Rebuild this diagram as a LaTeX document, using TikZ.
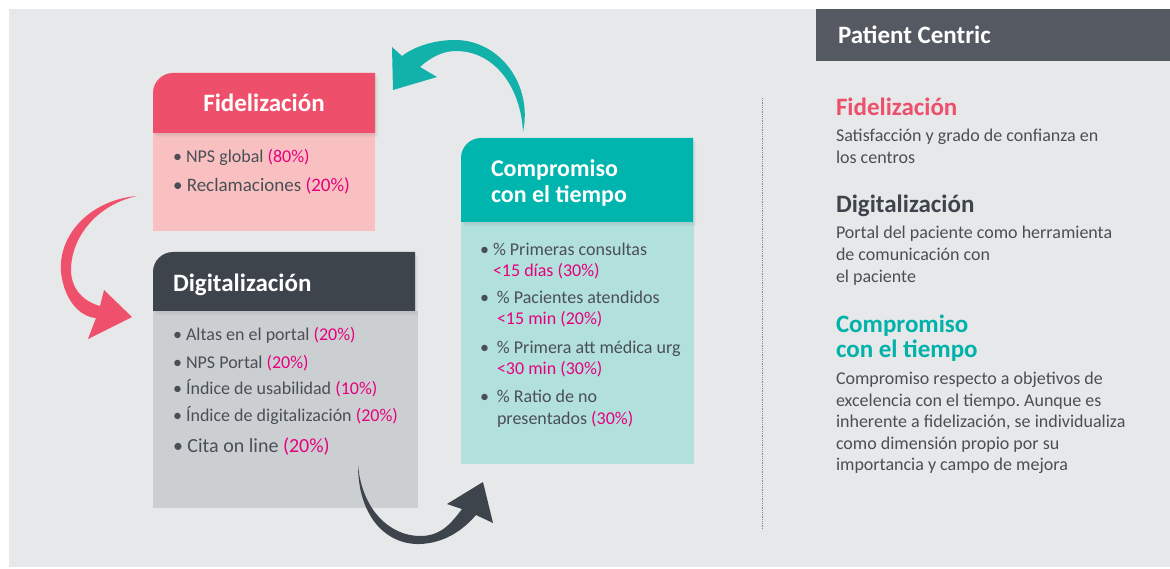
\documentclass[tikz,border=0pt]{standalone}
\usepackage{fontspec}
\setmainfont{Carlito}
\usetikzlibrary{shadows}
\definecolor{bg}{HTML}{E7E8EA}
\definecolor{redH}{HTML}{EE4F6A}
\definecolor{pinkB}{HTML}{F8C0C0}
\definecolor{darkH}{HTML}{3E444C}
\definecolor{grayB}{HTML}{CCCFD2}
\definecolor{tealH}{HTML}{00B5AD}
\definecolor{tealB}{HTML}{B2E0DC}
\definecolor{pcH}{HTML}{555A62}
\definecolor{mag}{HTML}{E6007E}
\definecolor{txt}{HTML}{4A4F56}
\definecolor{tealA}{HTML}{12B1AA}
\definecolor{redA}{HTML}{EF506B}
\definecolor{tealT}{HTML}{00B2AA}
\newcommand{\pc}[1]{\textcolor{mag}{#1}}
\frenchspacing
\begin{document}
\begin{tikzpicture}[x=1pt,y=-1pt,
  body/.style={anchor=north west, inner sep=0, outer sep=0},
  hshadow/.style={drop shadow={opacity=0.07, shadow xshift=1pt, shadow yshift=-1.5pt},
                  drop shadow={opacity=0.07, shadow xshift=2pt, shadow yshift=-3pt},
                  drop shadow={opacity=0.06, shadow xshift=3pt, shadow yshift=-4.5pt}},
  tl/.style={anchor=base west, inner sep=0, outer sep=0, text=txt, font=\fontsize{18}{21}\selectfont},
  tlb/.style={tl, font=\fontsize{19}{22}\selectfont},
  tlc/.style={tl, font=\fontsize{20}{23}\selectfont},
  hd/.style={anchor=base west, inner sep=0, outer sep=0, text=white, font=\fontsize{25}{28}\selectfont\bfseries},
  rh/.style={anchor=base west, inner sep=0, outer sep=0, font=\fontsize{25}{28}\selectfont\bfseries},
  rt/.style={anchor=base west, inner sep=0, outer sep=0, text=txt, font=\fontsize{18}{21}\selectfont}]
\useasboundingbox (0,0) rectangle (1170,569);
\fill[bg] (9,9) rectangle (1170,567);

% ---------- bodies ----------
\node[body, fill=pinkB, minimum width=222pt, minimum height=98pt] (fidB) at (153,133) {};
\node[body, fill=grayB, minimum width=265pt, minimum height=197pt] (digB) at (153,311) {};
\node[body, fill=tealB, minimum width=233pt, minimum height=242pt] (comB) at (461,222) {};

% ---------- headers ----------
\fill[redH, hshadow] (153,133) -- (153,93) arc[start angle=180, end angle=270, radius=20] -- (375,73) -- (375,133) -- cycle;
\fill[darkH, hshadow] (153,311) -- (153,272) arc[start angle=180, end angle=270, radius=20] -- (415,252) -- (415,311) -- cycle;
\fill[tealH, hshadow] (461,222) -- (461,158) arc[start angle=180, end angle=270, radius=20] -- (693,138) -- (693,222) -- cycle;
\fill[pcH] (816,9) rectangle (1170,61);

% ---------- header texts ----------
\node[hd, anchor=base] (fidH) at (264,112) {Fidelización};
\node[hd] (digH) at (173,292) {Digitalización};
\node[hd, font=\fontsize{24}{27}\selectfont\bfseries] (comH1) at (491,177) {Compromiso};
\node[hd, font=\fontsize{24}{27}\selectfont\bfseries] (comH2) at (491,203) {con el tiempo};
\node[hd] (pcT) at (838,44) {Patient Centric};

% ---------- Fidelizacion list ----------
\node[tl] (f1) at (173,163) {• NPS global \pc{(80\%)}};
\node[tlb] (f2) at (173,192) {• Reclamaciones \pc{(20\%)}};

% ---------- Digitalizacion list ----------
\node[tl] (d1) at (173,341) {• Altas en el portal \pc{(20\%)}};
\node[tl] (d2) at (173,368) {• NPS Portal \pc{(20\%)}};
\node[tl] (d3) at (173,394) {• Índice de usabilidad \pc{(10\%)}};
\node[tl] (d4) at (173,421) {• Índice de digitalización \pc{(20\%)}};
\node[tlc] (d5) at (173,452) {• Cita on line \pc{(20\%)}};

% ---------- Compromiso list ----------
\node[tl] (c1) at (480,256) {\makebox[13pt][l]{•}\% Primeras consultas};
\node[tl] (c1b) at (493,277) {\pc{<15 días (30\%)}};
\node[tl] (c2) at (480,304) {\makebox[17pt][l]{•}\% Pacientes atendidos};
\node[tl] (c2b) at (497,325) {\pc{<15 min (20\%)}};
\node[tl] (c3) at (480,353) {\makebox[17pt][l]{•}\% Primera att médica urg};
\node[tl] (c3b) at (497,374) {\pc{<30 min (30\%)}};
\node[tl] (c4) at (480,402) {\makebox[17pt][l]{•}\% Ratio de no};
\node[tl] (c4b) at (497,424) {presentados \pc{(30\%)}};

% ---------- separator ----------
\coordinate (sepT) at (762,98);
\coordinate (sepB) at (762,530);
\draw[densely dotted, line width=0.8pt, black!45] (sepT) -- (sepB);

% ---------- right column ----------
\node[rh, text=redH] (rF) at (836,116) {Fidelización};
\node[rt] (rF1) at (836,142) {Satisfacción y grado de confianza en};
\node[rt] (rF2) at (836,164) {los centros};
\node[rh, text=darkH] (rD) at (836,213) {Digitalización};
\node[rt] (rD1) at (836,239) {Portal del paciente como herramienta};
\node[rt] (rD2) at (836,261) {de comunicación con};
\node[rt] (rD3) at (836,283) {el paciente};
\node[rh, text=tealT] (rC1) at (836,332) {Compromiso};
\node[rh, text=tealT] (rC2) at (836,357) {con el tiempo};
\node[rt] (rC3) at (836,384) {Compromiso respecto a objetivos de};
\node[rt] (rC4) at (836,406) {excelencia con el tiempo. Aunque es};
\node[rt] (rC5) at (836,427) {inherente a fidelización, se individualiza};
\node[rt] (rC6) at (836,449) {como dimensión propio por su};
\node[rt] (rC7) at (836,470) {importancia y campo de mejora};

% ---------- arrows ----------
% teal: Compromiso -> Fidelizacion
\fill[tealA] (523,132) .. controls (533,85) and (500,40) .. (455,40)
  .. controls (435,40) and (415,46) .. (402,56)
  -- (392,47) -- (393,90) -- (437,77) -- (420,67)
  .. controls (430,58) and (442,51) .. (456,51)
  .. controls (495,51) and (521,88) .. (523,132) -- cycle;
% red: Fidelizacion -> Digitalizacion
\fill[redA] (137,196) .. controls (90,200) and (58,235) .. (61,272)
  .. controls (64,300) and (80,317) .. (96,318)
  -- (88,339) -- (132,317) -- (104,290) -- (100,306)
  .. controls (85,302) and (71,290) .. (71,270)
  .. controls (71,238) and (96,205) .. (137,196) -- cycle;
% dark: Digitalizacion -> Compromiso
\fill[darkH] (358,465) .. controls (358,515) and (385,545) .. (420,544)
  .. controls (445,543) and (463,530) .. (476,515)
  -- (493,523) -- (483,482) -- (447,504) -- (462,509)
  .. controls (450,525) and (440,536) .. (420,536)
  .. controls (390,536) and (362,510) .. (358,465) -- cycle;
\end{tikzpicture}
\end{document}
